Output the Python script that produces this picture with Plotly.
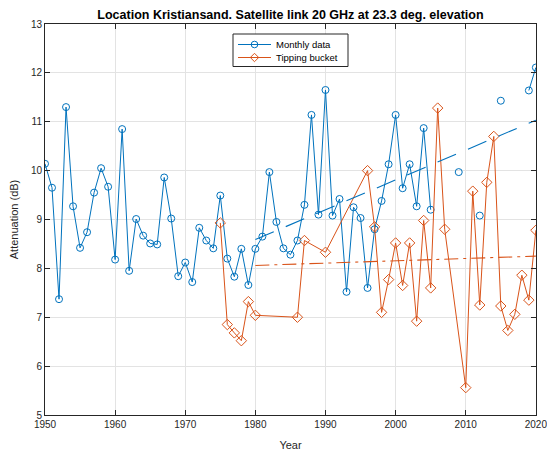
import plotly.graph_objects as go

# ---- data ----
years = list(range(1950, 2021))
monthly = [10.14, 9.65, 7.37, 11.30, 9.27, 8.42, 8.74, 9.55, 10.05, 9.67,
           8.18, 10.85, 7.95, 9.01, 8.67, 8.51, 8.49, 9.86, 9.02, 7.84,
           8.12, 7.72, 8.83, 8.57, 8.41, 9.49, 8.20, 7.83, 8.40, 7.66,
           8.40, 8.65, 9.97, 8.95, 8.41, 8.28, 8.57, 9.30, 11.14, 9.10,
           11.65, 9.08, 9.42, 7.52, 9.25, 9.03, 7.60, 8.80, 9.38, 10.13,
           11.14, 9.64, 10.13, 9.27, 10.87, 9.20, None, None, None, 9.97,
           None, None, 9.08, None, None, 11.43, None, None, None, 11.64,
           12.11]

tb_years = [1975, 1976, 1977, 1978, 1979, 1980, 1986, 1987, 1990, 1996,
            1997, 1998, 1999, 2000, 2001, 2002, 2003, 2004, 2005, 2006,
            2007, 2010, 2011, 2012, 2013, 2014, 2015, 2016, 2017, 2018,
            2019, 2020]
tipping = [8.93, 6.85, 6.68, 6.52, 7.32, 7.04, 7.00, 8.57, 8.33, 10.00,
           8.85, 7.10, 7.77, 8.52, 7.65, 8.52, 6.92, 8.98, 7.60, 11.28,
           8.80, 5.56, 9.58, 7.25, 9.76, 10.70, 7.23, 6.73, 7.06, 7.86,
           7.35, 8.78]

trend_years = [1980, 2020]
monthly_trend = [8.59, 11.03]
tipping_trend = [8.06, 8.25]

series_names = ["Monthly data", "Tipping bucket"]
x_ticks = [1950, 1960, 1970, 1980, 1990, 2000, 2010, 2020]
y_ticks = [5, 6, 7, 8, 9, 10, 11, 12, 13]

BLUE = "#0072BD"
ORANGE = "#D95319"
AX = "#262626"
FONT = "Liberation Sans, Arial, sans-serif"

# plot-area geometry in pixels (layout, not data)
W, H = 547, 452
L, R, T, B = 45, 11, 24, 37
PX0, PX1 = L, W - R
PY0, PY1 = H - B, T

fig = go.Figure()
fig.add_trace(go.Scatter(
    x=years, y=monthly, mode="lines+markers", name=series_names[0],
    line=dict(color=BLUE, width=1), connectgaps=False,
    marker=dict(symbol="circle-open", size=7, color=BLUE, line=dict(width=1))))
fig.add_trace(go.Scatter(
    x=tb_years, y=tipping, mode="lines+markers", name=series_names[1],
    line=dict(color=ORANGE, width=1),
    marker=dict(symbol="diamond-open", size=8, color=ORANGE, line=dict(width=1))))
fig.add_trace(go.Scatter(
    x=trend_years, y=monthly_trend, mode="lines",
    line=dict(color=BLUE, width=1.1, dash="20px,13px")))
fig.add_trace(go.Scatter(
    x=trend_years, y=tipping_trend, mode="lines",
    line=dict(color=ORANGE, width=1.1, dash="14px,5px,3px,5px")))
# invisible trace that activates the pixel-unit overlay axes used by the legend
fig.add_trace(go.Scatter(x=[PX0], y=[PY0], xaxis="x2", yaxis="y2", mode="markers",
                         marker=dict(opacity=0), hoverinfo="skip"))

# ---- custom legend (MATLAB-style compact box) ----
leg_x0, leg_x1, leg_y0 = 233, 348, 34
row_h = 13
rows_y = [leg_y0 + 10.5 + i * row_h for i in range(2)]
leg_y1 = rows_y[-1] + 9
line_x0, line_x1 = 238, 271
colors = [BLUE, ORANGE]

fig.add_shape(type="rect", xref="x2", yref="y2", x0=leg_x0, x1=leg_x1, y0=leg_y0, y1=leg_y1,
              line=dict(color=AX, width=1), fillcolor="white", layer="above")
for i in range(2):
    yc = rows_y[i]
    xc = (line_x0 + line_x1) / 2
    fig.add_shape(type="line", xref="x2", yref="y2", x0=line_x0, x1=line_x1,
                  y0=yc, y1=yc, line=dict(color=colors[i], width=1), layer="above")
    if i == 0:
        fig.add_shape(type="circle", xref="x2", yref="y2", x0=xc - 3.3, x1=xc + 3.3,
                      y0=yc - 3.3, y1=yc + 3.3, line=dict(color=colors[i], width=1),
                      fillcolor="rgba(0,0,0,0)", layer="above")
    else:
        d = 4.2
        fig.add_shape(type="path", xref="x2", yref="y2",
                      path=f"M {xc - d} {yc} L {xc} {yc - d} L {xc + d} {yc} L {xc} {yc + d} Z",
                      line=dict(color=colors[i], width=1), fillcolor="rgba(0,0,0,0)", layer="above")
    fig.add_annotation(x=line_x1 + 3, y=yc, xref="x2", yref="y2", text=series_names[i],
                       showarrow=False, xanchor="left", yanchor="middle",
                       font=dict(family=FONT, size=9.5, color="black"))

axis_common = dict(
    showline=True, linecolor=AX, linewidth=1, mirror="ticks",
    ticks="inside", ticklen=5, tickcolor=AX, tickwidth=1,
    showgrid=True, gridcolor="#e3e3e3", gridwidth=1, zeroline=False,
    tickfont=dict(family=FONT, size=10, color=AX), automargin=False,
    ticklabeloverflow="allow",
)

fig.update_layout(
    width=W, height=H,
    margin=dict(l=L, r=R, t=T, b=B),
    paper_bgcolor="white", plot_bgcolor="white",
    font=dict(family=FONT, color=AX),
    showlegend=False,
    title=dict(text="<b>Location Kristiansand. Satellite link 20 GHz at 23.3 deg. elevation</b>",
               x=0.531, xanchor="center", y=1 - 15 / H, yanchor="middle", yref="container",
               font=dict(family=FONT, size=12.5, color="black")),
    xaxis=dict(range=[1950, 2020.02], tickvals=x_ticks,
               title=dict(text="Year", standoff=12, font=dict(family=FONT, size=11, color=AX)),
               **axis_common),
    yaxis=dict(range=[5, 13], tickvals=y_ticks,
               title=dict(text="Attenuation (dB)", standoff=10, font=dict(family=FONT, size=11, color=AX)),
               **axis_common),
    xaxis2=dict(overlaying="x", range=[PX0, PX1], visible=False, fixedrange=True),
    yaxis2=dict(overlaying="y", range=[PY0, PY1], visible=False, fixedrange=True),
)

fig.write_html("out.html")
